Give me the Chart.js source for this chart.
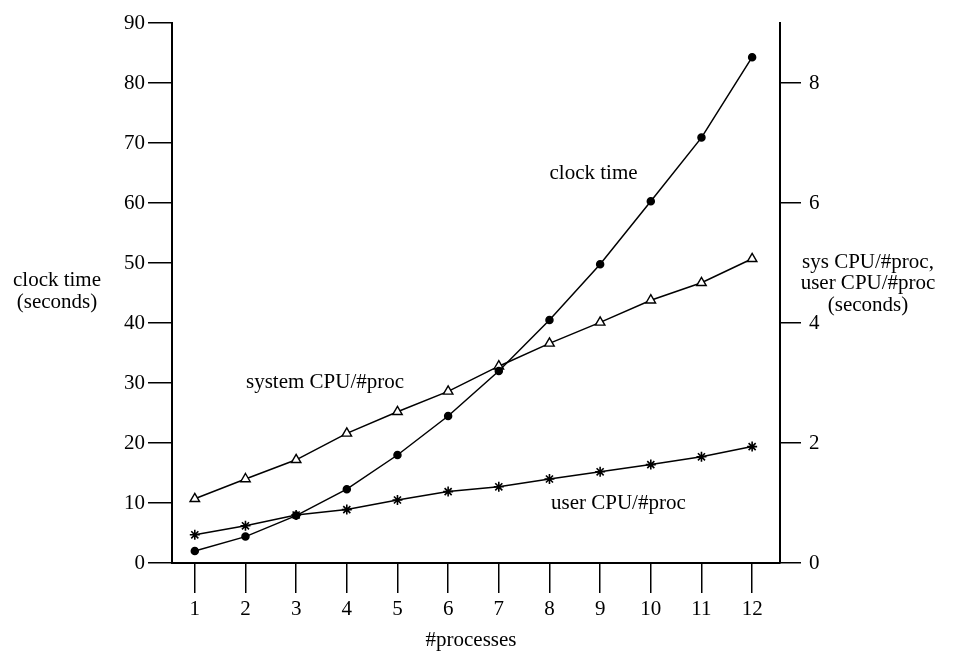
<!DOCTYPE html>
<html>
<head>
<meta charset="utf-8">
<script src="https://cdn.jsdelivr.net/npm/chart.js@4/dist/chart.umd.min.js"></script>
<style>
  html, body { margin: 0; padding: 0; background: #fff; }
  #wrap { width: 974px; height: 651px; }
</style>
</head>
<body>
<div id="wrap"><canvas id="myChart" width="974" height="651"></canvas></div>
<script>
const processes = [1, 2, 3, 4, 5, 6, 7, 8, 9, 10, 11, 12];
const clockTime = [2.0, 4.4, 7.9, 12.3, 18.0, 24.5, 32.0, 40.5, 49.8, 60.3, 70.9, 84.3];
const sysCpu = [1.07, 1.40, 1.72, 2.16, 2.52, 2.86, 3.28, 3.66, 4.01, 4.38, 4.67, 5.07];
const userCpu = [0.47, 0.62, 0.80, 0.89, 1.05, 1.19, 1.27, 1.40, 1.52, 1.64, 1.77, 1.94];
const leftTicks = [0, 10, 20, 30, 40, 50, 60, 70, 80, 90];
const rightTicks = [0, 2, 4, 6, 8];

const font = "'Liberation Serif', 'DejaVu Serif', serif";

function pts(ys) {
    return processes.map((x, i) => ({ x: x, y: ys[i] }));
}

// inline labels, in data coordinates
const notes = [
    { text: 'clock time', x: 8.87, y: 64.9 },
    { text: 'system CPU/#proc', x: 3.57, y: 30.1 },
    { text: 'user CPU/#proc', x: 9.36, y: 10.0 }
];

const textPlugin = {
    id: 'texts',
    afterDraw(chart) {
        const c = chart.ctx;
        const xs = chart.scales.x, ys = chart.scales.y;
        const a = chart.chartArea;
        c.save();
        c.fillStyle = '#000';
        c.font = '21px ' + font;
        c.textAlign = 'center';
        c.textBaseline = 'middle';
        notes.forEach(n => c.fillText(n.text, xs.getPixelForValue(n.x), ys.getPixelForValue(n.y)));
        c.fillText('clock time', 57, 280);
        c.fillText('(seconds)', 57, 302);
        c.fillText('sys CPU/#proc,', 868, 262);
        c.fillText('user CPU/#proc', 868, 283);
        c.fillText('(seconds)', 868, 305);
        c.fillText('#processes', (a.left + a.right) / 2 - 5, 640);
        c.restore();
    }
};

const ctx = document.getElementById('myChart').getContext('2d');
new Chart(ctx, {
    type: 'line',
    data: {
        datasets: [
            {
                label: 'clock time',
                data: pts(clockTime),
                yAxisID: 'y',
                borderColor: '#000',
                backgroundColor: '#000',
                borderWidth: 1.5,
                pointStyle: 'circle',
                pointRadius: 3.5,
                tension: 0
            },
            {
                label: 'system CPU/#proc',
                data: pts(sysCpu),
                yAxisID: 'y1',
                borderColor: '#000',
                backgroundColor: '#fff',
                borderWidth: 1.5,
                pointStyle: 'triangle',
                pointRadius: 5.5,
                pointBorderWidth: 1.4,
                tension: 0
            },
            {
                label: 'user CPU/#proc',
                data: pts(userCpu),
                yAxisID: 'y1',
                borderColor: '#000',
                backgroundColor: '#000',
                borderWidth: 1.5,
                pointStyle: 'star',
                pointRadius: 5,
                pointBorderWidth: 1.6,
                tension: 0
            }
        ]
    },
    options: {
        responsive: false,
        animation: false,
        layout: { padding: { left: 0, right: 0, top: 23, bottom: 0 } },
        plugins: { legend: { display: false }, tooltip: { enabled: false } },
        scales: {
            x: {
                type: 'linear',
                min: 0.55,
                max: 12.55,
                afterBuildTicks: axis => { axis.ticks = processes.map(v => ({ value: v })); },
                grid: { drawOnChartArea: false, drawTicks: true, tickLength: 30, tickColor: '#000', lineWidth: 1.5 },
                border: { color: '#000', width: 2 },
                ticks: { color: '#000', font: { family: font, size: 21 }, padding: 4, maxRotation: 0 },
                afterFit: axis => { axis.height = 88; }
            },
            y: {
                position: 'left',
                min: 0,
                max: 90,
                afterBuildTicks: axis => { axis.ticks = leftTicks.map(v => ({ value: v })); },
                grid: { drawOnChartArea: false, drawTicks: true, tickLength: 24, tickColor: '#000', lineWidth: 1.5 },
                border: { color: '#000', width: 2 },
                ticks: { color: '#000', font: { family: font, size: 21 }, padding: 3 },
                afterFit: axis => { axis.width = 172; }
            },
            y1: {
                position: 'right',
                min: 0,
                max: 9,
                afterBuildTicks: axis => { axis.ticks = rightTicks.map(v => ({ value: v })); },
                grid: { drawOnChartArea: false, drawTicks: true, tickLength: 21, tickColor: '#000', lineWidth: 1.5 },
                border: { color: '#000', width: 2 },
                ticks: { color: '#000', font: { family: font, size: 21 }, padding: 8 },
                afterFit: axis => { axis.width = 194; }
            }
        }
    },
    plugins: [textPlugin]
});
</script>
</body>
</html>
